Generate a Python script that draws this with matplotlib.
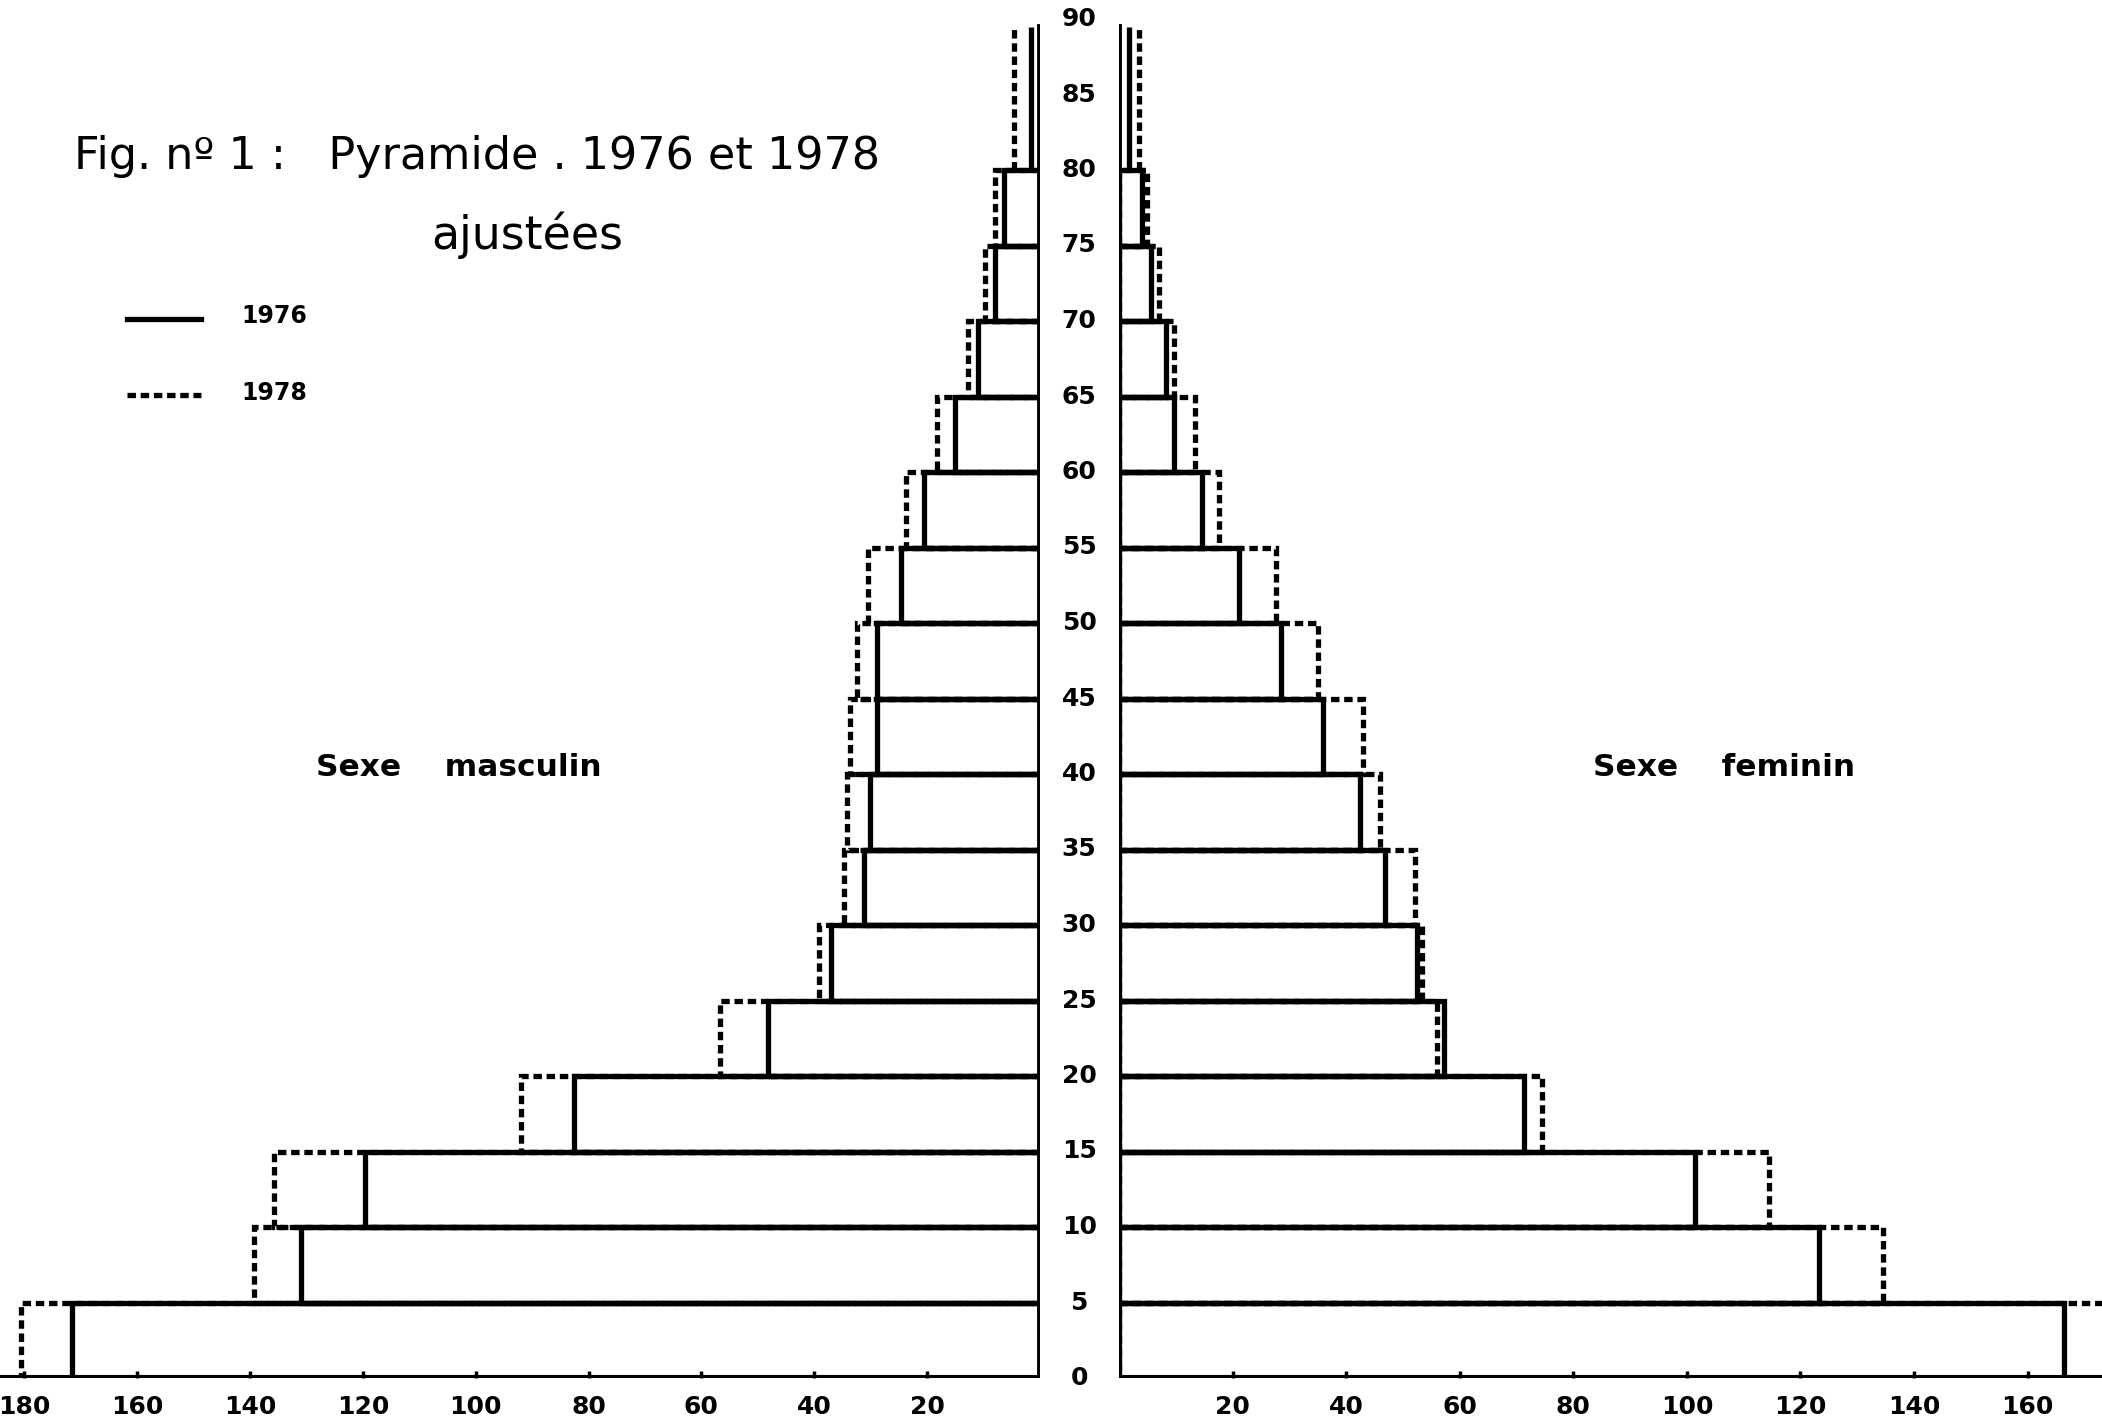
import matplotlib
matplotlib.use('Agg')
import matplotlib.pyplot as plt
from matplotlib.lines import Line2D

# groupes d'âge (borne inférieure), le dernier est ouvert (80 et +)
ages = [0, 5, 10, 15, 20, 25, 30, 35, 40, 45, 50, 55, 60, 65, 70, 75, 80]
hommes_1976 = [171.5, 131.0, 119.7, 82.5, 48.2, 37.0, 31.2, 30.2, 28.8, 28.8,
               24.7, 20.5, 15.0, 11.0, 8.0, 6.4, 1.6]
hommes_1978 = [180.6, 139.2, 135.8, 91.9, 56.7, 39.2, 34.7, 34.2, 33.7, 32.5,
               30.5, 23.7, 18.2, 12.8, 9.8, 8.0, 4.6]
femmes_1976 = [166.4, 123.3, 101.5, 71.3, 57.2, 52.4, 46.9, 42.4, 35.9, 28.5,
               21.2, 14.7, 9.7, 8.2, 5.6, 4.0, 1.8]
femmes_1978 = [178.0, 134.6, 114.4, 74.4, 56.0, 53.4, 52.1, 45.9, 42.9, 35.0,
               27.6, 17.6, 13.4, 9.7, 7.1, 5.0, 3.5]
age_ticks = list(range(0, 95, 5))
x_ticks = [20, 40, 60, 80, 100, 120, 140, 160]
x_ticks_g = [20, 40, 60, 80, 100, 120, 140, 160, 180]

haut = 89.5      # hauteur où s'arrêtent les traits du dernier groupe
lw = 3.8
tirets = (0, (1.6, 0.9))

fig = plt.figure(figsize=(21.02, 14.19), dpi=100)
fig.patch.set_facecolor('white')
y0 = 1 - 1378 / 1419
ax_g = fig.add_axes([0, y0, 1040 / 2102, 1 - y0])
ax_d = fig.add_axes([1119 / 2102, y0, 1 - 1119 / 2102, 1 - y0])


def pyramide(ax, v76, v78):
    for i, a in enumerate(ages):
        if i < len(ages) - 1:
            h = ages[i + 1] - a
            ax.barh(a, v78[i], height=h, align='edge', fill=False,
                    edgecolor='black', linewidth=lw, linestyle=tirets, zorder=2)
            ax.barh(a, v76[i], height=h, align='edge', fill=False,
                    edgecolor='black', linewidth=lw, zorder=3)
        else:
            ax.vlines(v78[i], a, haut, colors='black', linewidth=lw,
                      linestyles=tirets, zorder=2)
            ax.vlines(v76[i], a, haut, colors='black', linewidth=lw, zorder=3)
    ax.set_ylim(0, 1378 / 15.1)
    for s in ['top', 'left', 'right', 'bottom']:
        ax.spines[s].set_visible(False)
    ax.axvline(0, ymin=0, ymax=haut / (1378 / 15.1), color='black',
               linewidth=lw + 0.4, zorder=4)
    ax.axhline(0, color='black', linewidth=lw + 0.6, zorder=4)
    ax.set_yticks([])
    ax.tick_params(axis='x', direction='in', length=5, width=2.5, pad=12,
                   labelsize=18)


pyramide(ax_g, hommes_1976, hommes_1978)
pyramide(ax_d, femmes_1976, femmes_1978)
ax_g.set_xlim(184.3, 0)
ax_d.set_xlim(0, 173.1)
ax_g.set_xticks(x_ticks_g)
ax_g.set_xticklabels([str(v) for v in x_ticks_g], fontweight='bold', fontsize=18)
ax_d.set_xticks(x_ticks)
ax_d.set_xticklabels([str(v) for v in x_ticks], fontweight='bold', fontsize=18)

# âges entre les deux demi-pyramides
for a in age_ticks:
    ax_d.text(-7, a, str(a), ha='center', va='center', fontsize=18,
              fontweight='bold', clip_on=False)

# titre
fig.text(74 / 2102, 1 - 157 / 1419, 'Fig. nº 1 :   Pyramide . 1976 et 1978',
         fontsize=32, ha='left', va='center')
fig.text(527 / 2102, 1 - 235 / 1419, 'ajustées', fontsize=33,
         ha='center', va='center')

# légende
fig.add_artist(Line2D([127 / 2102, 201 / 2102], [1 - 319 / 1419] * 2,
                      color='black', linewidth=lw, transform=fig.transFigure))
fig.add_artist(Line2D([127 / 2102, 201 / 2102], [1 - 395 / 1419] * 2,
                      color='black', linewidth=lw, linestyle=tirets,
                      transform=fig.transFigure))
fig.text(241 / 2102, 1 - 316 / 1419, '1976', fontsize=17, fontweight='bold',
         va='center')
fig.text(241 / 2102, 1 - 393 / 1419, '1978', fontsize=17, fontweight='bold',
         va='center')

fig.text(316 / 2102, 1 - 767 / 1419, 'Sexe    masculin', fontsize=22.5,
         fontweight='bold', va='center')
fig.text(1593 / 2102, 1 - 767 / 1419, 'Sexe    feminin', fontsize=22.5,
         fontweight='bold', va='center')

fig.savefig('out.png', dpi=100, facecolor='white')
